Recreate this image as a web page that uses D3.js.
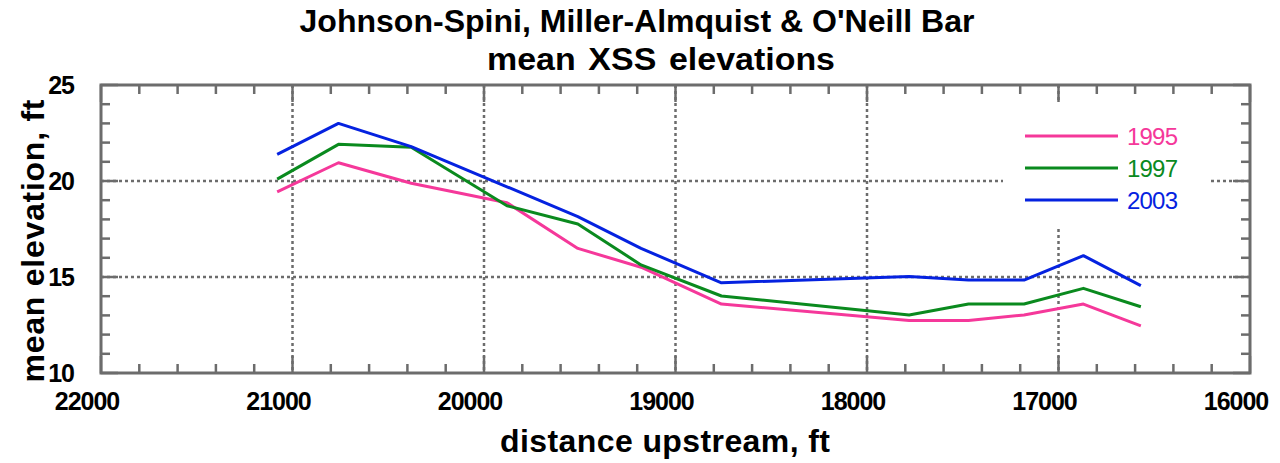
<!DOCTYPE html>
<html>
<head>
<meta charset="utf-8">
<script src="https://cdn.jsdelivr.net/npm/d3@7"></script>
<style>
  html, body { margin: 0; padding: 0; background: #fff; }
  svg { display: block; font-family: "Liberation Sans", Arial, Helvetica, sans-serif; }
</style>
</head>
<body>
<svg id="chart" width="1280" height="463"></svg>
<script>
// cross-section survey stations, ft upstream
const distances = [21080, 20760, 20380, 19880, 19510, 19180, 18760, 17780, 17470, 17180, 16870, 16570];

// mean XSS elevation (ft) per survey year
const elev1995 = [19.43, 20.95, 19.88, 18.87, 16.49, 15.51, 13.59, 12.74, 12.74, 13.02, 13.59, 12.45];
const elev1997 = [20.10, 21.91, 21.76, 18.71, 17.76, 15.63, 14.01, 13.02, 13.59, 13.59, 14.41, 13.45];
const elev2003 = [21.39, 23.00, 21.79, 19.70, 18.14, 16.49, 14.70, 15.02, 14.84, 14.84, 16.11, 14.55];

const years = ['1995', '1997', '2003'];
const colors = ['#f5389a', '#0a8a1e', '#0522e0'];

const xTicks = [22000, 21000, 20000, 19000, 18000, 17000, 16000];
const yTicks = [10, 15, 20, 25];

const svg = d3.select('#chart');
const plot = {left: 101, right: 1250, top: 85, bottom: 373};

const x = d3.scaleLinear().domain([22000, 16000]).range([plot.left, plot.right]);
const y = d3.scaleLinear().domain([10, 25]).range([plot.bottom, plot.top]);

const gray = '#6c6c6c';

// dotted grid at interior major ticks
const grid = svg.append('g');
grid.selectAll('.vgrid')
    .data(xTicks.slice(1, -1))
    .enter().append('line')
    .attr('x1', (d) => x(d)).attr('x2', (d) => x(d))
    .attr('y1', plot.top).attr('y2', plot.bottom)
    .attr('stroke', gray).attr('stroke-width', 2.5)
    .attr('stroke-dasharray', '3,3');
grid.selectAll('.hgrid')
    .data(yTicks.slice(1, -1))
    .enter().append('line')
    .attr('x1', plot.left).attr('x2', plot.right)
    .attr('y1', (d) => y(d)).attr('y2', (d) => y(d))
    .attr('stroke', gray).attr('stroke-width', 2.5)
    .attr('stroke-dasharray', '3,3');

// legend box blanks out the grid behind it
svg.append('rect')
    .attr('x', 1003).attr('y', 103)
    .attr('width', 206).attr('height', 123)
    .attr('fill', '#fff');

// frame ticks, mirrored on all four sides
const ticks = svg.append('g').attr('stroke', gray).attr('stroke-width', 2.5);
const xMinor = d3.range(22000, 15999, -200);
const yMinor = d3.range(10, 25.01, 1);
const majLen = 17, minLen = 9;

xMinor.forEach(function(d) {
  const len = d % 1000 === 0 ? majLen : minLen;
  ticks.append('line').attr('x1', x(d)).attr('x2', x(d)).attr('y1', plot.bottom).attr('y2', plot.bottom - len);
  ticks.append('line').attr('x1', x(d)).attr('x2', x(d)).attr('y1', plot.top).attr('y2', plot.top + len);
});
yMinor.forEach(function(d) {
  const len = d % 5 === 0 ? majLen : minLen;
  ticks.append('line').attr('y1', y(d)).attr('y2', y(d)).attr('x1', plot.left).attr('x2', plot.left + len);
  ticks.append('line').attr('y1', y(d)).attr('y2', y(d)).attr('x1', plot.right).attr('x2', plot.right - len);
});

svg.append('rect')
    .attr('x', plot.left).attr('y', plot.top)
    .attr('width', plot.right - plot.left).attr('height', plot.bottom - plot.top)
    .attr('fill', 'none').attr('stroke', gray).attr('stroke-width', 3);

// series lines
const series = [elev1995, elev1997, elev2003];
const line = d3.line()
    .x((d, i) => x(distances[i]))
    .y((d) => y(d));

svg.selectAll('.series')
    .data(series)
    .enter().append('path')
    .attr('class', 'series')
    .attr('d', line)
    .attr('fill', 'none')
    .attr('stroke', (d, i) => colors[i])
    .attr('stroke-width', 3)
    .attr('stroke-linejoin', 'round');

// tick labels
svg.selectAll('.xlab')
    .data(xTicks)
    .enter().append('text')
    .attr('x', (d) => x(d) - 14)
    .attr('y', 410)
    .attr('text-anchor', 'middle')
    .attr('font-size', 25).attr('font-weight', 'bold')
    .attr('letter-spacing', -1)
    .text((d) => d);

svg.selectAll('.ylab')
    .data(yTicks)
    .enter().append('text')
    .attr('x', 74)
    .attr('y', (d) => y(d) + 9)
    .attr('text-anchor', 'end')
    .attr('font-size', 25).attr('font-weight', 'bold')
    .attr('letter-spacing', -1)
    .text((d) => d);

// legend
const legend = svg.append('g');
years.forEach(function(yr, i) {
  const ly = 136 + i * 32;
  legend.append('line')
      .attr('x1', 1025).attr('x2', 1118)
      .attr('y1', ly).attr('y2', ly)
      .attr('stroke', colors[i]).attr('stroke-width', 3);
  legend.append('text')
      .attr('x', 1127).attr('y', ly + 9)
      .attr('font-size', 24)
      .attr('letter-spacing', -0.8)
      .attr('fill', colors[i])
      .text(yr);
});

// titles
svg.append('text')
    .attr('x', 637).attr('y', 32)
    .attr('text-anchor', 'middle')
    .attr('font-size', 31).attr('font-weight', 'bold')
    .attr('textLength', 675).attr('lengthAdjust', 'spacingAndGlyphs')
    .text("Johnson-Spini, Miller-Almquist & O'Neill Bar");
svg.append('text')
    .attr('x', 661).attr('y', 70)
    .attr('text-anchor', 'middle')
    .attr('font-size', 31).attr('font-weight', 'bold')
    .attr('word-spacing', 3)
    .attr('textLength', 348).attr('lengthAdjust', 'spacingAndGlyphs')
    .text('mean XSS elevations');

svg.append('text')
    .attr('x', 665).attr('y', 452)
    .attr('text-anchor', 'middle')
    .attr('font-size', 32).attr('font-weight', 'bold')
    .attr('textLength', 330).attr('lengthAdjust', 'spacing')
    .text('distance upstream, ft');

svg.append('text')
    .attr('transform', 'translate(44,241) rotate(-90)')
    .attr('text-anchor', 'middle')
    .attr('font-size', 32).attr('font-weight', 'bold')
    .attr('textLength', 283).attr('lengthAdjust', 'spacing')
    .text('mean elevation, ft');
</script>
</body>
</html>
